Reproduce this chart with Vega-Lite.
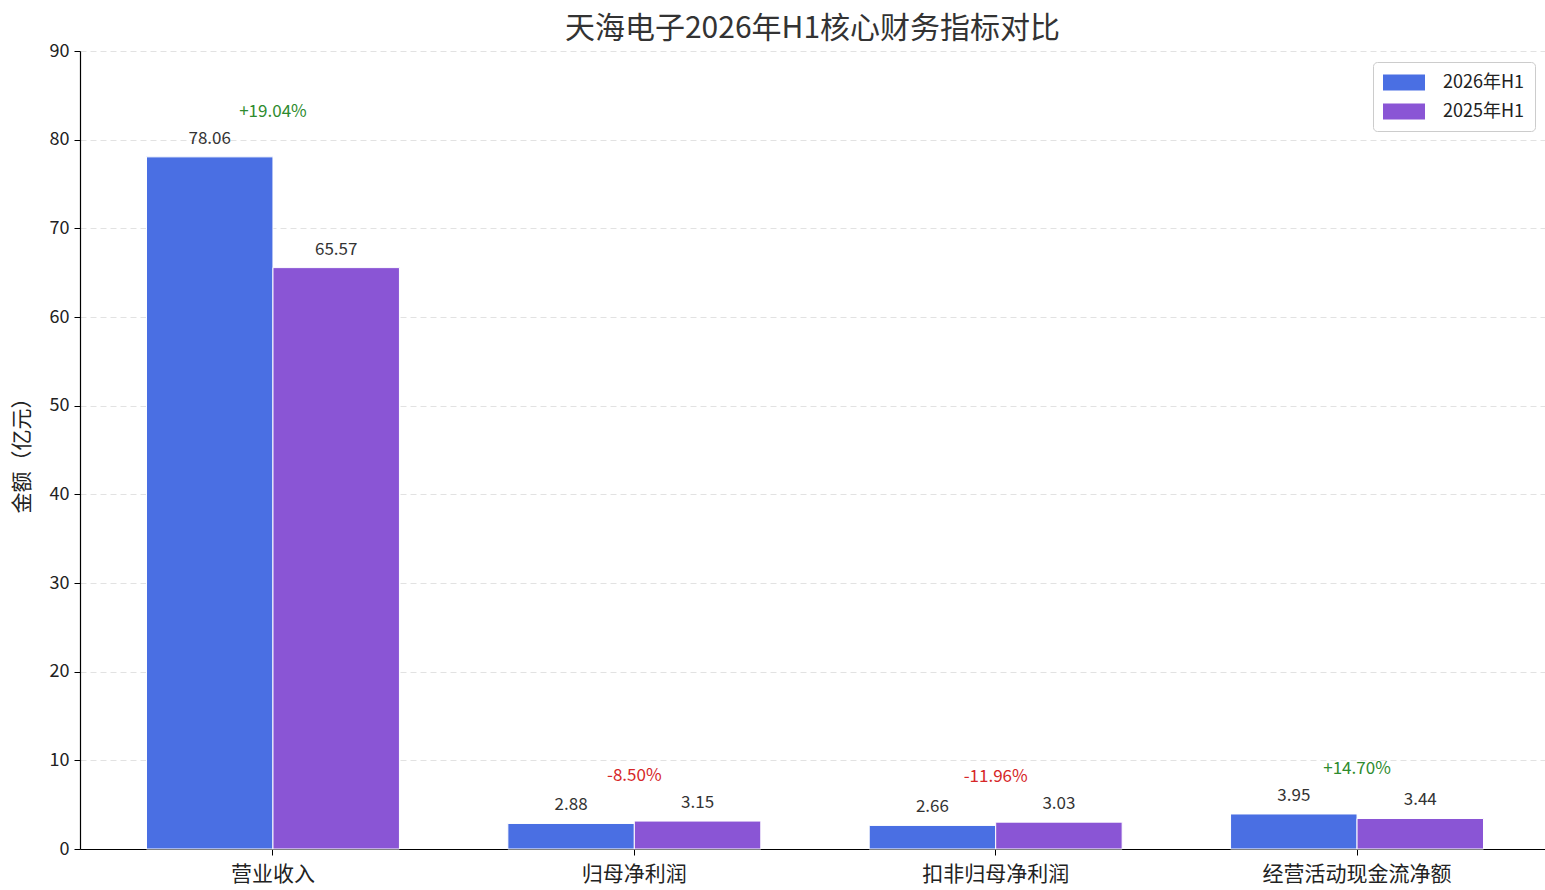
{
  "$schema": "https://vega.github.io/schema/vega-lite/v6.json",
  "autosize": "none",
  "width": 1465,
  "height": 798,
  "padding": {"left": 80, "top": 51, "right": 0, "bottom": 41},
  "title": {
    "text": "天海电子2026年H1核心财务指标对比",
    "fontSize": 30,
    "font": "Noto Sans CJK SC",
    "fontWeight": "normal",
    "color": "#333333",
    "anchor": "middle",
    "offset": -2
  },
  "datasets": {
    "bars": [
      {"category": "营业收入", "period": "2026年H1", "value": 78.06},
      {"category": "营业收入", "period": "2025年H1", "value": 65.57},
      {"category": "归母净利润", "period": "2026年H1", "value": 2.88},
      {"category": "归母净利润", "period": "2025年H1", "value": 3.15},
      {"category": "扣非归母净利润", "period": "2026年H1", "value": 2.66},
      {"category": "扣非归母净利润", "period": "2025年H1", "value": 3.03},
      {"category": "经营活动现金流净额", "period": "2026年H1", "value": 3.95},
      {"category": "经营活动现金流净额", "period": "2025年H1", "value": 3.44}
    ],
    "changes": [
      {"category": "营业收入", "change": "+19.04%", "dir": "up"},
      {"category": "归母净利润", "change": "-8.50%", "dir": "down"},
      {"category": "扣非归母净利润", "change": "-11.96%", "dir": "down"},
      {"category": "经营活动现金流净额", "change": "+14.70%", "dir": "up"}
    ]
  },
  "data": {"name": "bars"},
  "encoding": {
    "x": {
      "field": "category",
      "type": "nominal",
      "sort": null,
      "scale": {"paddingInner": 0.3, "paddingOuter": 0.184, "range": [0, 1470]},
      "axis": {
        "title": null,
        "labelAngle": 0,
        "labelFontSize": 21,
        "labelColor": "#222222",
        "labelPadding": 8,
        "labelLimit": 0,
        "tickSize": 6,
        "grid": false
      }
    },
    "y": {
      "field": "value",
      "type": "quantitative",
      "scale": {"domain": [0, 90], "nice": false},
      "axis": {
        "title": "金额（亿元）",
        "titleFontSize": 21,
        "titleFontWeight": "normal",
        "titleColor": "#222222",
        "titlePadding": 17,
        "values": [0, 10, 20, 30, 40, 50, 60, 70, 80, 90],
        "labelFontSize": 18,
        "labelColor": "#222222",
        "labelPadding": 5,
        "tickSize": 6,
        "grid": true,
        "gridDash": [6, 4],
        "gridColor": "#e2e2e2"
      }
    }
  },
  "layer": [
    {
      "mark": {"type": "bar", "stroke": "white", "strokeWidth": 1},
      "encoding": {
        "xOffset": {
          "field": "period",
          "type": "nominal",
          "sort": ["2026年H1", "2025年H1"],
          "scale": {"paddingInner": 0, "paddingOuter": 0}
        },
        "color": {
          "field": "period",
          "type": "nominal",
          "sort": ["2026年H1", "2025年H1"],
          "scale": {"domain": ["2026年H1", "2025年H1"], "range": ["#4A6FE3", "#8A55D5"]},
          "legend": {
            "title": null,
            "orient": "none",
            "legendX": 1293,
            "legendY": 11,
            "symbolType": "M-1,-0.76H3V0.76H-1Z",
            "symbolSize": 441,
            "symbolStrokeWidth": 0,
            "labelFontSize": 18,
            "labelColor": "#222222",
            "labelOffset": 39,
            "rowPadding": 9,
            "padding": 10,
            "strokeColor": "#cccccc",
            "fillColor": "white",
            "cornerRadius": 4
          }
        }
      }
    },
    {
      "mark": {"type": "text", "dy": -18, "baseline": "middle", "fontSize": 17, "color": "#333333"},
      "encoding": {
        "xOffset": {
          "field": "period",
          "type": "nominal",
          "sort": ["2026年H1", "2025年H1"],
          "scale": {"paddingInner": 0, "paddingOuter": 0}
        },
        "text": {"field": "value", "type": "quantitative", "format": ".2f"}
      }
    },
    {
      "transform": [
        {"aggregate": [{"op": "max", "field": "value", "as": "value"}], "groupby": ["category"]},
        {"lookup": "category", "from": {"data": {"name": "changes"}, "key": "category", "fields": ["change", "dir"]}}
      ],
      "mark": {"type": "text", "dy": -45, "baseline": "middle", "fontSize": 17},
      "encoding": {
        "text": {"field": "change", "type": "nominal"},
        "color": {"condition": {"test": "datum.dir === 'up'", "value": "#2E8B2E"}, "value": "#D62728"}
      }
    }
  ],
  "config": {
    "font": "Noto Sans CJK SC",
    "view": {"stroke": null},
    "axis": {
      "domainColor": "#000000",
      "domainWidth": 1.2,
      "tickColor": "#000000",
      "labelFont": "Noto Sans CJK SC",
      "titleFont": "Noto Sans CJK SC"
    },
    "legend": {"labelFont": "Noto Sans CJK SC"}
  }
}
